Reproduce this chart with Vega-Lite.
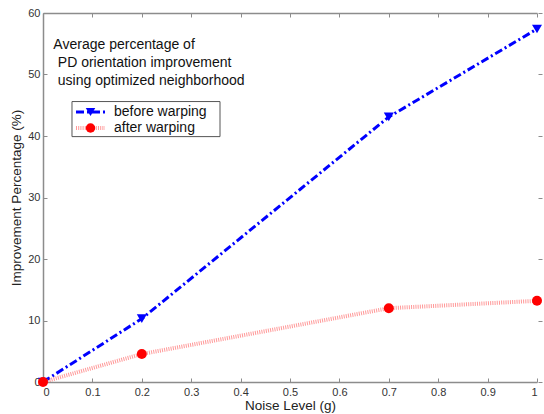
{
  "$schema": "https://vega.github.io/schema/vega-lite/v6.json",
  "width": 494,
  "height": 369,
  "autosize": "none",
  "padding": {"left": 43, "top": 13, "right": 7, "bottom": 32},
  "background": "white",
  "config": {
    "view": {"stroke": null},
    "font": "Liberation Sans",
    "axis": {
      "domainColor": "#8c8c8c",
      "domainWidth": 1.5,
      "tickColor": "#8c8c8c",
      "tickSize": -4,
      "labelColor": "#333333",
      "labelFont": "Liberation Sans",
      "labelFontSize": 11,
      "titleFont": "Liberation Sans",
      "titleFontSize": 13.5,
      "titleFontWeight": "normal",
      "titleColor": "#222222",
      "grid": false
    }
  },
  "data": {
    "values": [
      {"noise": 0, "pct": 0, "series": "before warping"},
      {"noise": 0.2, "pct": 10.3, "series": "before warping"},
      {"noise": 0.7, "pct": 43.1, "series": "before warping"},
      {"noise": 1, "pct": 57.4, "series": "before warping"},
      {"noise": 0, "pct": 0, "series": "after warping"},
      {"noise": 0.2, "pct": 4.55, "series": "after warping"},
      {"noise": 0.7, "pct": 12.0, "series": "after warping"},
      {"noise": 1, "pct": 13.2, "series": "after warping"}
    ]
  },
  "resolve": {"axis": {"x": "independent", "y": "independent"}},
  "layer": [
    {
      "transform": [{"filter": "datum.series === 'before warping'"}],
      "mark": {"type": "line", "color": "#0000ff", "strokeWidth": 3, "strokeDash": [8, 3, 2, 3]},
      "encoding": {
        "x": {"field": "noise", "type": "quantitative", "scale": {"domain": [0, 1], "nice": false},
          "axis": {"orient": "bottom", "values": [0, 0.1, 0.2, 0.3, 0.4, 0.5, 0.6, 0.7, 0.8, 0.9, 1], "format": "~g", "labelPadding": 8, "title": "Noise Level (g)", "titlePadding": 1}},
        "y": {"field": "pct", "type": "quantitative", "scale": {"domain": [0, 60], "nice": false},
          "axis": {"orient": "left", "values": [0, 10, 20, 30, 40, 50, 60], "labelPadding": 7, "title": "Improvement Percentage (%)", "titlePadding": 4}}
      }
    },
    {
      "transform": [{"filter": "datum.series === 'after warping'"}],
      "mark": {"type": "line", "color": "#ff5555", "strokeWidth": 4, "strokeDash": [1, 1.2], "opacity": 0.6},
      "encoding": {
        "x": {"field": "noise", "type": "quantitative",
          "axis": {"orient": "top", "values": [0, 0.1, 0.2, 0.3, 0.4, 0.5, 0.6, 0.7, 0.8, 0.9, 1], "labels": false, "title": null}},
        "y": {"field": "pct", "type": "quantitative",
          "axis": {"orient": "right", "values": [0, 10, 20, 30, 40, 50, 60], "labels": false, "domain": false, "title": null, "offset": 5}}
      }
    },
    {
      "mark": {"type": "point", "filled": true, "opacity": 1, "size": 100},
      "encoding": {
        "x": {"field": "noise", "type": "quantitative", "axis": null},
        "y": {"field": "pct", "type": "quantitative", "axis": null},
        "color": {"field": "series", "type": "nominal",
          "scale": {"domain": ["before warping", "after warping"], "range": ["#0000ff", "#ff0000"]},
          "legend": null},
        "shape": {"field": "series", "type": "nominal",
          "scale": {"domain": ["before warping", "after warping"], "range": ["triangle-down", "circle"]},
          "legend": null}
      }
    },
    {
      "data": {"values": [{}]},
      "mark": {"type": "rect", "fill": "white", "stroke": "#555555", "strokeWidth": 1},
      "encoding": {
        "x": {"datum": 0.0587, "type": "quantitative", "axis": null},
        "x2": {"datum": 0.3583},
        "y": {"datum": 45.6, "type": "quantitative", "axis": null},
        "y2": {"datum": 39.9}
      }
    },
    {
      "data": {"values": [{}]},
      "mark": {"type": "rule", "color": "#0000ff", "strokeWidth": 3, "strokeDash": [8, 3, 2, 3]},
      "encoding": {
        "x": {"datum": 0.0668, "type": "quantitative", "axis": null},
        "x2": {"datum": 0.1255},
        "y": {"datum": 43.9, "type": "quantitative", "axis": null}
      }
    },
    {
      "data": {"values": [{}]},
      "mark": {"type": "rule", "color": "#ff5555", "strokeWidth": 4, "strokeDash": [1, 1.2], "opacity": 0.6},
      "encoding": {
        "x": {"datum": 0.0668, "type": "quantitative", "axis": null},
        "x2": {"datum": 0.1255},
        "y": {"datum": 41.3, "type": "quantitative", "axis": null}
      }
    },
    {
      "data": {"values": [{}]},
      "mark": {"type": "point", "shape": "triangle-down", "filled": true, "opacity": 1, "size": 90, "color": "#0000ff"},
      "encoding": {
        "x": {"datum": 0.0962, "type": "quantitative", "axis": null},
        "y": {"datum": 43.9, "type": "quantitative", "axis": null}
      }
    },
    {
      "data": {"values": [{}]},
      "mark": {"type": "point", "shape": "circle", "filled": true, "opacity": 1, "size": 90, "color": "#ff0000"},
      "encoding": {
        "x": {"datum": 0.0962, "type": "quantitative", "axis": null},
        "y": {"datum": 41.3, "type": "quantitative", "axis": null}
      }
    },
    {
      "data": {"values": [{"label": "before warping"}]},
      "mark": {"type": "text", "align": "left", "baseline": "middle", "fontSize": 14, "fill": "#111111", "font": "Liberation Sans"},
      "encoding": {
        "x": {"datum": 0.1437, "type": "quantitative", "axis": null},
        "y": {"datum": 43.9, "type": "quantitative", "axis": null},
        "text": {"field": "label", "type": "nominal"}
      }
    },
    {
      "data": {"values": [{"label": "after warping"}]},
      "mark": {"type": "text", "align": "left", "baseline": "middle", "fontSize": 14, "fill": "#111111", "font": "Liberation Sans"},
      "encoding": {
        "x": {"datum": 0.1437, "type": "quantitative", "axis": null},
        "y": {"datum": 41.3, "type": "quantitative", "axis": null},
        "text": {"field": "label", "type": "nominal"}
      }
    },
    {
      "data": {"values": [{"note": "Average percentage of"}]},
      "mark": {"type": "text", "align": "left", "baseline": "middle", "fontSize": 14, "fill": "#111111", "font": "Liberation Sans"},
      "encoding": {
        "x": {"datum": 0.021, "type": "quantitative", "axis": null},
        "y": {"datum": 54.8, "type": "quantitative", "axis": null},
        "text": {"field": "note", "type": "nominal"}
      }
    },
    {
      "data": {"values": [{"note": "PD orientation improvement\nusing optimized neighborhood"}]},
      "mark": {"type": "text", "align": "left", "baseline": "middle", "fontSize": 14, "lineHeight": 18.5, "fill": "#111111", "font": "Liberation Sans", "lineBreak": "\n"},
      "encoding": {
        "x": {"datum": 0.03, "type": "quantitative", "axis": null},
        "y": {"datum": 51.9, "type": "quantitative", "axis": null},
        "text": {"field": "note", "type": "nominal"}
      }
    }
  ]
}
